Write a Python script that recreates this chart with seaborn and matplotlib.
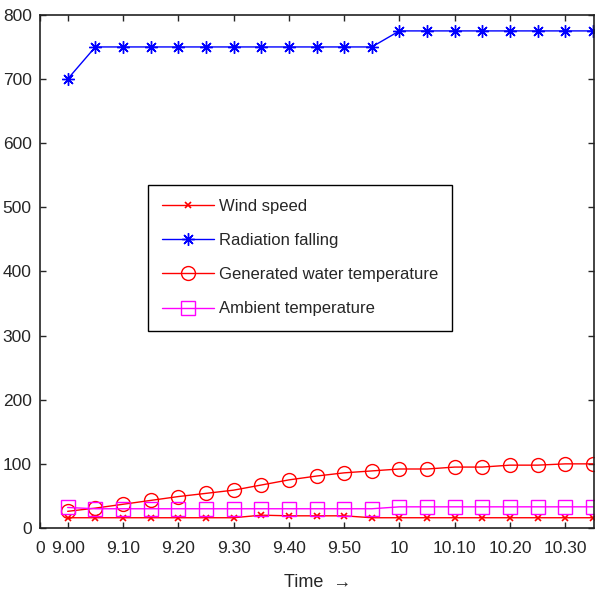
import matplotlib
matplotlib.use('Agg')
import matplotlib.pyplot as plt
import seaborn as sns
import numpy as np

# time index 1..20 -> 9.00, 9.05, ..., 10.35
steps = list(range(1, 21))
wind_speed = [16, 16, 16, 16, 16, 16, 16, 20, 19, 19, 19, 16, 16, 16, 16, 16, 16, 16, 16, 16]
radiation = [700] + [750] * 11 + [775] * 8
water_temp = [26, 31, 37, 43, 49, 54, 59, 67, 75, 81, 86, 89, 92, 92, 95, 95, 98, 98, 100, 100]
ambient_temp = [32] + [30] * 11 + [33] * 8

tick_pos = [0, 1, 3, 5, 7, 9, 11, 13, 15, 17, 19]
tick_labels = ['0', '9.00', '9.10', '9.20', '9.30', '9.40', '9.50', '10', '10.10', '10.20', '10.30']

sns.set_style('ticks')
plt.rcParams['font.family'] = ['Liberation Sans', 'DejaVu Sans']

fig = plt.figure(figsize=(6.01, 5.95), dpi=100)
ax = fig.add_axes([0.0666, 0.1126, 0.9224, 0.8624])

asterisk = (8, 2, 0)
sns.lineplot(x=steps, y=wind_speed, ax=ax, color='#ff0000', marker='x', markersize=5,
             markeredgewidth=1.2, markeredgecolor='#ff0000', linewidth=1, label='Wind speed')
sns.lineplot(x=steps, y=radiation, ax=ax, color='#0000ff', marker=asterisk, markersize=9,
             markeredgewidth=1, markeredgecolor='#0000ff', linewidth=1, label='Radiation falling')
sns.lineplot(x=steps, y=water_temp, ax=ax, color='#ff0000', marker='o', markersize=10,
             markerfacecolor='none', markeredgecolor='#ff0000', markeredgewidth=1, linewidth=1,
             label='Generated water temperature')
sns.lineplot(x=steps, y=ambient_temp, ax=ax, color='#ff00ff', marker='s', markersize=9.5,
             markerfacecolor='none', markeredgecolor='#ff00ff', markeredgewidth=1, linewidth=1,
             label='Ambient temperature')

ax.set_xlim(0, 20.05)
ax.set_ylim(0, 800)
ax.set_xticks(tick_pos)
ax.set_xticklabels(tick_labels)
ax.set_yticks(range(0, 801, 100))
ax.tick_params(direction='in', top=True, right=True, length=4, width=1, labelsize=12.5, pad=6)
ax.tick_params(axis='x', pad=9)
for s in ax.spines.values():
    s.set_linewidth(1.2)
    s.set_color('#222222')

ax.set_xlabel('Time  \u2192', fontsize=13, labelpad=13)
ax.set_ylabel('')

leg = ax.legend(loc='upper left', bbox_to_anchor=(0.195, 0.669), fontsize=12,
                frameon=True, fancybox=False, edgecolor='black', framealpha=1,
                handlelength=3.1, borderpad=0.85, labelspacing=1.15, handletextpad=0.3,
                borderaxespad=0)
leg.get_frame().set_linewidth(1)

fig.savefig('out.png', dpi=100)
